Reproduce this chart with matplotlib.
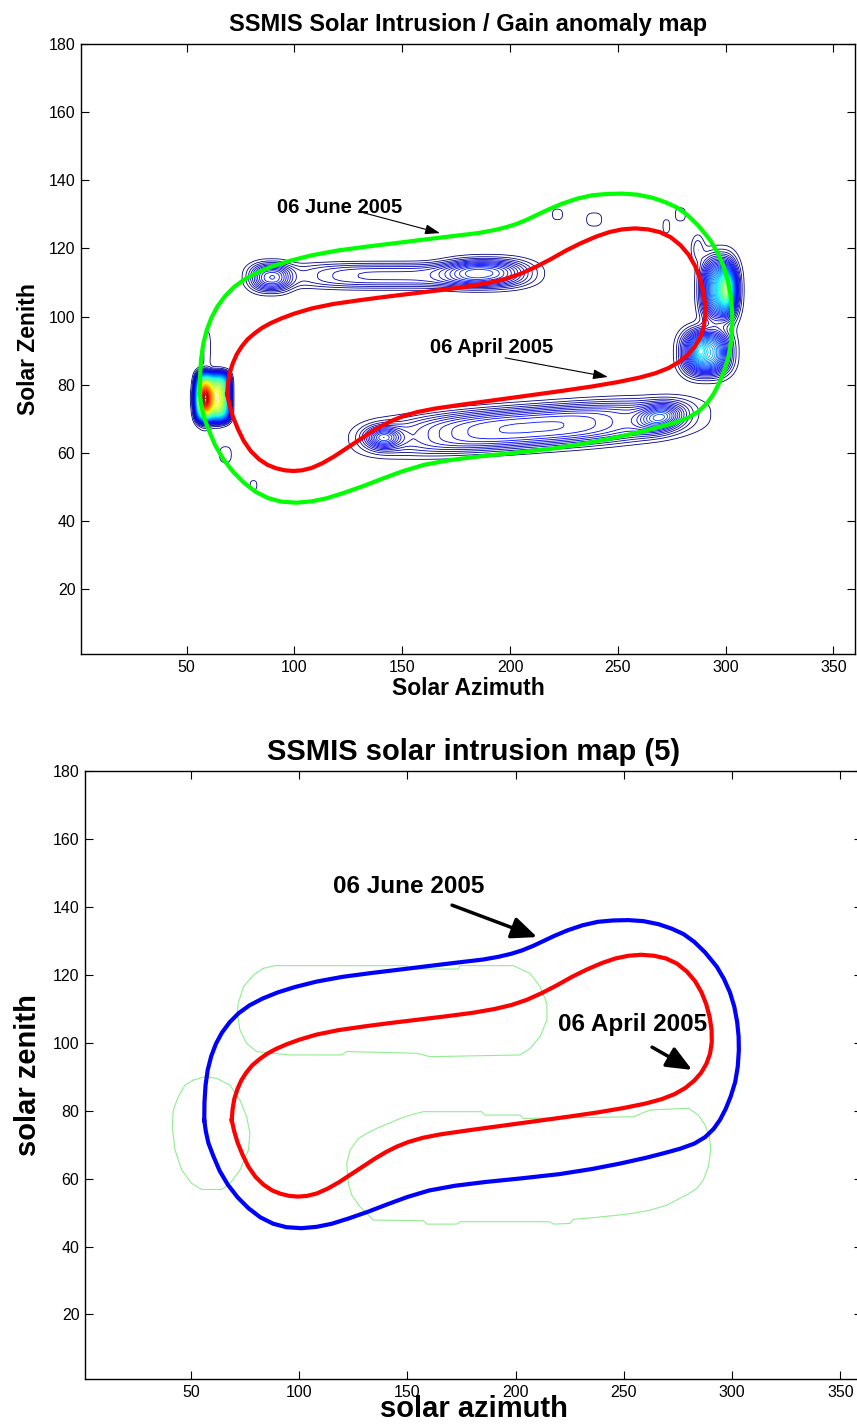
import numpy as np
import matplotlib
matplotlib.use("Agg")
import matplotlib.pyplot as plt

plt.rcParams['font.family'] = ['Liberation Sans', 'DejaVu Sans']

# 06 April 2005 track (azimuth, zenith)
april_az = [68.8, 69.2, 70.0, 71.4, 73.2, 75.5, 78.2, 81.5, 85.0, 89.0, 94.0, 100.0,
            108.0, 118.0, 130.0, 142.0, 155.0, 168.0, 180.0, 190.0, 198.0, 205.0, 212.0,
            219.0, 226.0, 233.0, 240.0, 246.0, 252.0, 258.0, 264.0, 269.5, 274.5, 279.0,
            282.8, 285.8, 288.0, 289.6, 290.5, 290.6, 289.8, 288.1, 285.6, 282.4, 278.4,
            273.5, 267.5, 260.0, 250.0, 238.0, 224.0, 208.0, 193.0, 178.0, 165.0, 157.0,
            150.5, 145.0, 140.0, 135.0, 129.5, 124.0, 118.5, 113.0, 108.0, 103.5, 99.5,
            95.5, 91.5, 87.5, 83.5, 79.8, 76.5, 73.8, 71.5, 69.9, 68.8]
april_zen = [77.2, 80.5, 83.5, 86.3, 88.9, 91.2, 93.3, 95.1, 96.7, 98.1, 99.5, 100.9,
             102.4, 103.7, 104.8, 105.8, 106.8, 107.8, 108.8, 109.9, 111.1, 112.6, 114.6,
             116.9, 119.4, 121.6, 123.5, 124.8, 125.6, 125.9, 125.6, 124.8, 123.3, 121.0,
             118.2, 114.9, 111.4, 107.6, 103.8, 100.2, 96.8, 93.8, 91.1, 88.8, 86.7,
             84.9, 83.4, 82.1, 80.8, 79.5, 78.2, 76.8, 75.5, 74.2, 73.0, 72.0,
             70.8, 69.4, 67.8, 65.9, 63.6, 61.3, 59.0, 57.0, 55.6, 54.9, 54.7,
             54.9, 55.5, 56.5, 58.2, 60.5, 63.5, 67.0, 70.6, 74.0, 77.2]

# 06 June 2005 track
june_az = [56.1, 56.2, 56.7, 57.7, 59.3, 61.5, 64.3, 67.8, 72.0, 77.0, 83.0, 90.0,
           98.0, 108.0, 120.0, 133.0, 146.0, 160.0, 173.0, 185.0, 192.0, 198.0, 203.0,
           208.0, 213.0, 218.0, 224.0, 231.0, 238.0, 245.0, 252.0, 259.0, 266.0, 272.0,
           277.5, 282.5, 287.5, 292.9, 296.2, 299.0, 301.0, 302.3, 303.0, 303.1, 302.6,
           301.4, 299.3, 297.0, 294.4, 291.4, 287.5, 282.5, 276.0, 268.0, 260.0, 248.0,
           235.0, 220.0, 203.0, 186.0, 172.0, 160.0, 150.0, 141.0, 132.0, 123.0, 115.0,
           108.0, 101.0, 94.0, 88.0, 82.0, 76.5, 71.5, 67.0, 63.2, 60.2, 58.0, 56.8, 56.1]
june_zen = [77.2, 82.5, 87.5, 92.0, 96.0, 99.7, 103.0, 106.0, 108.7, 111.0, 113.0, 114.8,
            116.4, 118.0, 119.4, 120.5, 121.5, 122.6, 123.6, 124.5, 125.3, 126.2, 127.2,
            128.5, 130.0, 131.5, 133.1, 134.6, 135.6, 136.0, 136.1, 135.8, 134.9, 133.6,
            132.0, 129.7, 126.6, 122.4, 118.8, 114.8, 110.6, 106.2, 101.8, 97.8, 93.0,
            88.4, 84.1, 80.5, 77.3, 74.6, 72.2, 70.3, 68.8, 67.4, 66.1, 64.4,
            62.8, 61.3, 60.1, 59.0, 57.9, 56.5, 54.6, 52.5, 50.3, 48.3, 46.7,
            45.8, 45.4, 45.7, 46.7, 48.6, 51.3, 54.5, 58.2, 62.3, 66.8, 70.5, 74.0, 77.2]

# gain anomaly blobs (top map): centre, amplitude, half widths, tilt (deg), shape power
blob_az = [62.3, 58.5, 65.0, 89.0, 189.0, 145.0, 210.0, 141.0, 270.0, 297.0, 300.5,
           291.0, 288.0, 287.0, 222.0, 239.0, 272.5, 279.0, 68.0, 81.0, 59.5]
blob_zen = [76.4, 76.0, 76.0, 111.5, 112.8, 112.0, 67.5, 64.5, 70.5, 108.0, 108.0,
            89.5, 90.0, 120.0, 130.0, 128.5, 126.5, 130.0, 59.5, 50.5, 91.0]
blob_amp = [0.45, 0.55, 0.20, 0.16, 0.16, 0.09, 0.16, 0.16, 0.16, 0.30, 0.28,
            0.30, 0.08, 0.04, 0.025, 0.025, 0.025, 0.025, 0.025, 0.025, 0.025]
blob_waz = [7.5, 3.5, 3.0, 9.0, 18.5, 45.0, 62.0, 8.0, 10.0, 7.5, 3.5,
            10.0, 3.0, 3.0, 3.0, 4.5, 2.0, 3.0, 3.5, 2.0, 2.0]
blob_wzen = [6.7, 5.0, 5.0, 3.8, 3.8, 3.5, 5.8, 3.0, 3.5, 8.5, 5.0,
             6.0, 3.0, 4.0, 2.0, 2.5, 2.5, 2.5, 3.0, 1.8, 6.0]
blob_tilt = [0, 0, 0, 0, 0, 0, 2.6, 0, 5, 0, 0, 0, 0, 0, 0, 0, 0, 0, 0, 0, 0]
blob_pow = [2.5, 1, 1, 1.2, 1.2, 1.5, 1.5, 1, 1, 1.3, 1, 1.3, 1, 1, 1.3, 1.3, 1.3, 1.3,
            1.3, 1.3, 1.3]

# solar intrusion regions (bottom map outlines)
reg_up_az = [83.4, 88.8, 149.7, 151.2, 173.5, 174.3, 198.9, 206.6, 211.3, 214.4, 214.4,
             211.3, 206.6, 202.0, 160.4, 154.3, 121.9, 119.6, 95.7, 80.3, 75.7, 72.6,
             71.4, 71.8, 74.2, 78.8, 83.4]
reg_up_zen = [121.9, 122.7, 122.7, 121.7, 121.7, 122.7, 122.7, 120.4, 116.5, 111.6, 106.7,
              101.8, 98.3, 96.4, 95.9, 96.9, 97.4, 96.4, 96.4, 97.4, 99.8, 103.7,
              108.6, 111.6, 116.5, 119.9, 121.9]
reg_left_az = [51.0, 56.5, 61.9, 68.0, 72.6, 75.7, 77.2, 76.5, 72.6, 68.0, 64.2, 54.9,
               50.3, 45.7, 42.6, 41.3, 41.8, 44.1, 47.2, 51.0]
reg_left_zen = [89.0, 90.0, 89.5, 87.5, 83.1, 78.2, 73.3, 68.4, 62.5, 58.6, 56.8, 56.8,
                58.6, 62.5, 68.4, 75.3, 80.2, 84.1, 87.5, 89.0]
reg_low_az = [122.7, 121.9, 123.5, 127.3, 131.2, 135.8, 141.2, 146.6, 151.2, 157.3, 184.3,
              185.8, 202.0, 203.5, 254.4, 262.1, 279.8, 284.4, 287.5, 289.5, 290.1, 289.0,
              286.7, 283.7, 279.0, 269.8, 262.1, 254.4, 248.2, 237.5, 226.6, 225.1, 217.4,
              215.9, 174.3, 172.8, 158.9, 157.3, 134.2, 128.1, 124.2, 122.7]
reg_low_zen = [58.6, 64.5, 68.4, 71.8, 73.3, 74.8, 76.2, 77.7, 78.7, 79.7, 79.7,
               78.7, 78.7, 77.7, 78.2, 80.2, 80.7, 78.7, 75.8, 72.3, 68.4, 63.5,
               59.6, 57.1, 55.2, 52.2, 50.7, 49.8, 49.3, 48.6, 48.0, 46.8, 46.6,
               47.3, 47.3, 46.6, 46.6, 47.6, 47.8, 51.7, 55.2, 58.6]

xticks = [50, 100, 150, 200, 250, 300, 350]
yticks = [20, 40, 60, 80, 100, 120, 140, 160, 180]


def anomaly_field(az, zen):
    field = np.zeros_like(az)
    for i in range(len(blob_az)):
        t = np.deg2rad(blob_tilt[i])
        dx = az - blob_az[i]
        dy = zen - blob_zen[i]
        u = np.abs(dx * np.cos(t) + dy * np.sin(t)) / blob_waz[i]
        v = np.abs(-dx * np.sin(t) + dy * np.cos(t)) / blob_wzen[i]
        p = 2 * blob_pow[i]
        field += blob_amp[i] * np.exp(-(u**p + v**p))
    return field


def style_axes(ax):
    ax.set_xlim(1, 360)
    ax.set_ylim(1, 180)
    ax.set_xticks(xticks)
    ax.set_yticks(yticks)
    ax.tick_params(direction='in', length=5.5, width=0.8, top=True, right=True,
                   labelsize=11.5, pad=4)
    for s in ax.spines.values():
        s.set_linewidth(1.0)


fig = plt.figure(figsize=(8.57, 14.25), dpi=100)

# top panel: gain anomaly contours + tracks
ax1 = fig.add_axes([81 / 857, 1 - 654 / 1425, 774 / 857, 610 / 1425])
AZ, ZEN = np.meshgrid(np.arange(1, 360.5, 0.5), np.arange(1, 180.5, 0.5))
Z = anomaly_field(AZ, ZEN)
levels = np.linspace(0.015, 1.0, 70)
ax1.contour(AZ, ZEN, Z, levels=levels, cmap='jet', vmin=0.015, vmax=1.0,
            linewidths=0.6, zorder=1)
ax1.plot(june_az, june_zen, color='#00ff00', lw=3, solid_joinstyle='round', zorder=3)
ax1.plot(april_az, april_zen, color='#ff0000', lw=3, solid_joinstyle='round', zorder=3)
style_axes(ax1)
ax1.set_title('SSMIS Solar Intrusion / Gain anomaly map', fontsize=17,
              fontweight='bold', pad=9)
ax1.set_xlabel('Solar Azimuth', fontsize=16.5, fontweight='bold', labelpad=2)
ax1.set_ylabel('Solar Zenith', fontsize=16.5, fontweight='bold', labelpad=6)

ax1.text(91.9, 132, '06 June 2005', fontsize=14.5, fontweight='bold',
         ha='left', va='center')
ax1.annotate('', xy=(167.5, 124.5), xytext=(131.3, 130.6),
             arrowprops=dict(arrowstyle='-|>,head_length=0.6,head_width=0.2',
                             lw=0.8, color='k', mutation_scale=15, shrinkA=0, shrinkB=0))
ax1.text(162.9, 90.8, '06 April 2005', fontsize=14.5, fontweight='bold',
         ha='left', va='center')
ax1.annotate('', xy=(245.4, 82.3), xytext=(197.7, 87.9),
             arrowprops=dict(arrowstyle='-|>,head_length=0.6,head_width=0.2',
                             lw=0.8, color='k', mutation_scale=15, shrinkA=0, shrinkB=0))

# bottom panel: intrusion regions + tracks
ax2 = fig.add_axes([85 / 857, 1 - 1379 / 1425, 777 / 857, 608 / 1425])
for raz, rzen in [(reg_up_az, reg_up_zen), (reg_left_az, reg_left_zen),
                  (reg_low_az, reg_low_zen)]:
    ax2.plot(raz, rzen, color='#90ee90', lw=0.8, zorder=1)
ax2.plot(june_az, june_zen, color='#0000ff', lw=3, solid_joinstyle='round', zorder=3)
ax2.plot(april_az, april_zen, color='#ff0000', lw=3, solid_joinstyle='round', zorder=3)
style_axes(ax2)
ax2.set_title('SSMIS solar intrusion map (5)', fontsize=21, fontweight='bold', pad=8)
ax2.set_xlabel('solar azimuth', fontsize=21, fontweight='bold')
ax2.xaxis.set_label_coords(0.5, -0.026)
ax2.set_ylabel('solar zenith', fontsize=21, fontweight='bold', labelpad=8)

ax2.text(115.6, 146.1, '06 June 2005', fontsize=17.5, fontweight='bold',
         ha='left', va='center')
ax2.annotate('', xy=(209.9, 131.1), xytext=(170.6, 140.5),
             arrowprops=dict(arrowstyle='-|>,head_length=0.7,head_width=0.3',
                             lw=2.5, color='k', mutation_scale=22, shrinkA=0, shrinkB=0))
ax2.text(219.6, 105.5, '06 April 2005', fontsize=17.5, fontweight='bold',
         ha='left', va='center')
ax2.annotate('', xy=(281.5, 92.0), xytext=(263.0, 98.7),
             arrowprops=dict(arrowstyle='-|>,head_length=0.7,head_width=0.3',
                             lw=2.5, color='k', mutation_scale=22, shrinkA=0, shrinkB=0))

fig.savefig('out.png', dpi=100)
